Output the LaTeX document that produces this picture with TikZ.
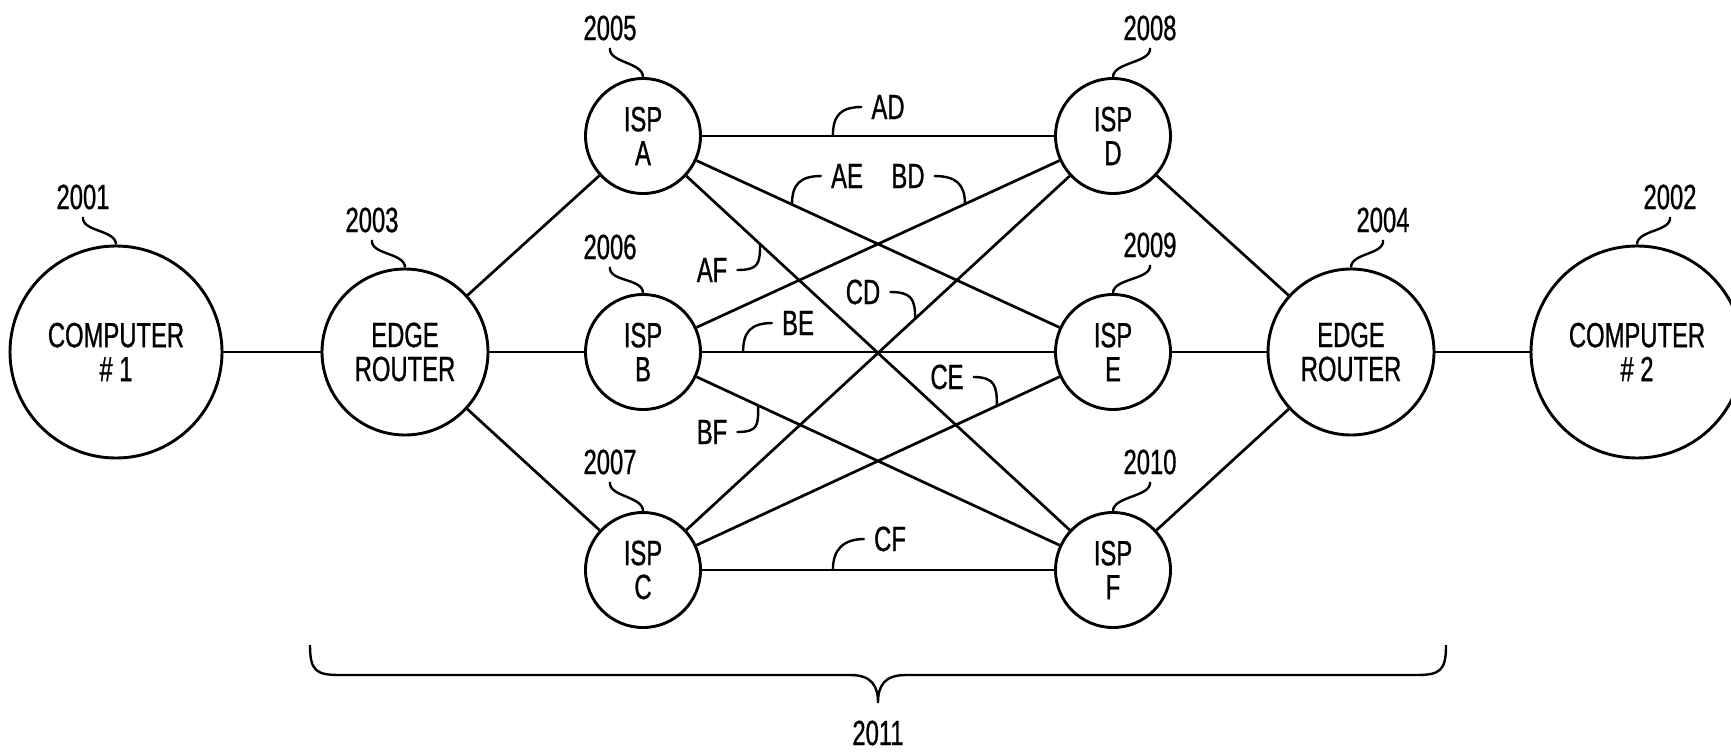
\documentclass[tikz,border=0pt]{standalone}
\usepackage{fontspec}
\setmainfont{Liberation Sans}[FakeStretch=0.68,FakeBold=0.8]
\usetikzlibrary{calc}
\begin{document}
\begin{tikzpicture}[x=1pt,y=-1pt,line width=2.9pt,
  every node/.style={font=\fontsize{35}{34}\selectfont,align=center,inner sep=0pt},
  bigc/.style={circle,draw,minimum size=212pt},
  router/.style={circle,draw,minimum size=166pt},
  isp/.style={circle,draw,minimum size=115pt},
  link/.style={line width=2.7pt},
  lead/.style={line width=2.4pt}]
\useasboundingbox (0,0) rectangle (1731,752);

% main nodes
\node[bigc]   (c1)  at (116,352)  {COMPUTER\\\# 1};
\node[router] (er1) at (405,352)  {EDGE\\ROUTER};
\node[isp]    (A)   at (643,136)  {ISP\\A};
\node[isp]    (B)   at (643,352)  {ISP\\B};
\node[isp]    (C)   at (643,570)  {ISP\\C};
\node[isp]    (D)   at (1113,136) {ISP\\D};
\node[isp]    (E)   at (1113,352) {ISP\\E};
\node[isp]    (F)   at (1113,570) {ISP\\F};
\node[router] (er2) at (1351,352) {EDGE\\ROUTER};
\node[bigc]   (c2)  at (1637,352) {COMPUTER\\\# 2};

% links
\draw[link] (c1) -- (er1);
\draw[link] (er1) -- (A);
\draw[link] (er1) -- (B);
\draw[link] (er1) -- (C);
\foreach \s in {A,B,C}{
  \foreach \t in {D,E,F}{
    \draw[link] (\s) -- (\t);
  }
}
\draw[link] (D) -- (er2);
\draw[link] (E) -- (er2);
\draw[link] (F) -- (er2);
\draw[link] (er2) -- (c2);

% reference numbers
\node (l2001) at (83,197)   {2001};
\node (l2003) at (372,220)  {2003};
\node (l2005) at (610,28)   {2005};
\node (l2006) at (610,247)  {2006};
\node (l2007) at (610,462)  {2007};
\node (l2008) at (1150,28)  {2008};
\node (l2009) at (1150,245) {2009};
\node (l2010) at (1150,462) {2010};
\node (l2004) at (1383,220) {2004};
\node (l2002) at (1670,197) {2002};
\node (l2011) at (878,733)  {2011};

\foreach \l/\n in {2001/c1,2003/er1,2005/A,2006/B,2007/C}{
  \draw[lead] ($(l\l.south)+(0,6)$) .. controls +(-2,15) and +(0,-15) .. (\n.north);
}
\foreach \l/\n in {2008/D,2009/E,2010/F,2004/er2,2002/c2}{
  \draw[lead] ($(l\l.south)+(0,6)$) .. controls +(2,15) and +(0,-15) .. (\n.north);
}

% link labels
\node (lAD) at (888,107) {AD};
\node (lAE) at (847,176) {AE};
\node (lBD) at (908,176) {BD};
\node (lAF) at (712,270) {AF};
\node (lCD) at (863,292) {CD};
\node (lBE) at (798,323) {BE};
\node (lBF) at (712,432) {BF};
\node (lCE) at (947,377) {CE};
\node (lCF) at (890,539) {CF};

\coordinate (pAD) at ($(A)!0.404!(D)$);
\coordinate (pAE) at ($(A)!0.317!(E)$);
\coordinate (pBD) at ($(B)!0.685!(D)$);
\coordinate (pAF) at ($(A)!0.249!(F)$);
\coordinate (pCD) at ($(C)!0.579!(D)$);
\coordinate (pBE) at ($(B)!0.213!(E)$);
\coordinate (pBF) at ($(B)!0.245!(F)$);
\coordinate (pCE) at ($(C)!0.753!(E)$);
\coordinate (pCF) at ($(C)!0.404!(F)$);

% leaders going left then down
\foreach \k in {AD,AE,BE,CF}{
  \draw[lead] ($(l\k.west)+(-8,0)$) .. controls +(-22,0) and +(0,-20) .. (p\k);
}
% leaders going right then down
\foreach \k in {BD,CD,CE}{
  \draw[lead] ($(l\k.east)+(8,0)$) .. controls +(22,0) and +(0,-20) .. (p\k);
}
% leaders going right then up
\foreach \k in {AF,BF}{
  \draw[lead] ($(l\k.east)+(8,0)$) .. controls +(22,0) and +(0,20) .. (p\k);
}

% brace
\coordinate (bl) at (310,645);
\coordinate (br) at (1446,645);
\coordinate (bt) at (878,703);
\draw[lead] (bl) .. controls (310,671) and (316,675) .. (340,675) -- (850,675)
  .. controls (872,675) and (878,686) .. (bt)
  .. controls (878,686) and (884,675) .. (906,675) -- (1416,675)
  .. controls (1440,675) and (1446,671) .. (br);
\end{tikzpicture}
\end{document}
